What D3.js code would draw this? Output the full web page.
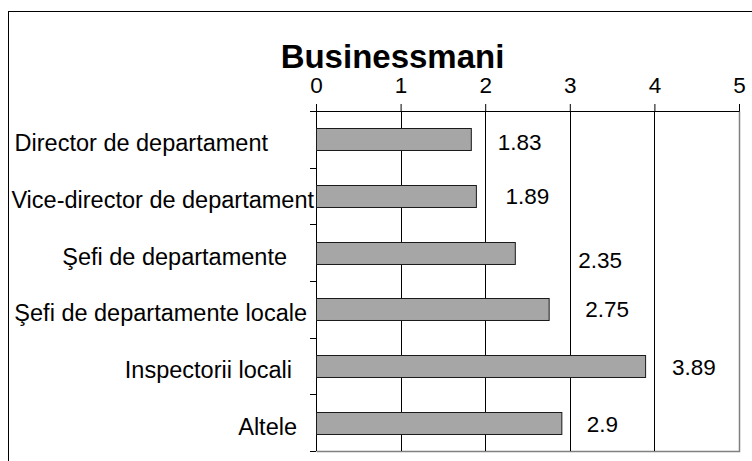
<!DOCTYPE html>
<html>
<head>
<meta charset="utf-8">
<script src="https://cdn.jsdelivr.net/npm/d3@7"></script>
<style>
  body { margin: 0; background: #fff; }
  text { font-family: "Liberation Sans", Arial, sans-serif; fill: #000; }
</style>
</head>
<body>
<script>
var categories = ["Director de departament", "Vice-director de departament", "Şefi de departamente",
                  "Şefi de departamente locale", "Inspectorii locali", "Altele"];
var values = [1.83, 1.89, 2.35, 2.75, 3.89, 2.9];
var ticks = [0, 1, 2, 3, 4, 5];
var title = "Businessmani";

// hand placed labels in the original, small nudges in px
var catGap = [48, 2, 29, 9, 24, 19];
var valDx = [0, 2.5, 36.5, 9.5, 0, -1.5];
var valDy = [3, 0, 7.5, 0, 1, 1];

var width = 752, height = 461;
// plot area (note: "top" is taken by window.top)
var pLeft = 316, pRight = 739, pTop = 111, pBottom = 451;

var svg = d3.select("body")
    .append("svg")
    .attr("width", width)
    .attr("height", height);

// chart border
svg.append("rect")
    .attr("x", 8.5)
    .attr("y", 11.5)
    .attr("width", 770)
    .attr("height", 480)
    .attr("fill", "none")
    .attr("stroke", "#000");

svg.append("text")
    .attr("x", 392.5)
    .attr("y", 68)
    .attr("text-anchor", "middle")
    .attr("font-size", 33)
    .attr("font-weight", "bold")
    .text(title);

var x = d3.scaleLinear()
    .domain([0, 5])
    .range([pLeft, pRight]);

var y = d3.scaleBand()
    .domain(categories)
    .range([pTop, pBottom])
    .paddingInner(0.612)
    .paddingOuter(0.306);

// plot area border (grey right / bottom)
svg.append("path")
    .attr("d", "M" + (pRight + 0.5) + "," + (pTop + 0.5) + "V" + (pBottom + 0.5) + "H" + (pLeft + 0.5))
    .attr("fill", "none")
    .attr("stroke", "#808080")
    .attr("stroke-width", 1.5);

// gridlines
svg.selectAll(".grid")
    .data(ticks.filter(function(d) { return d > 0 && d < 5; }))
    .enter()
    .append("line")
    .attr("x1", function(d) { return Math.round(x(d)) + 0.5; })
    .attr("x2", function(d) { return Math.round(x(d)) + 0.5; })
    .attr("y1", pTop)
    .attr("y2", pBottom)
    .attr("stroke", "#000");

// top axis
var xAxis = svg.append("g")
    .attr("transform", "translate(0," + pTop + ")")
    .call(d3.axisTop(x).tickValues(ticks).tickSize(7).tickPadding(11).tickFormat(d3.format("d")));
xAxis.select(".domain").attr("stroke", "#000");
xAxis.selectAll(".tick line").attr("stroke", "#000");
xAxis.selectAll("text")
    .attr("font-size", 22.5)
    .attr("font-family", null);

// left axis, ticks between categories
var edges = d3.range(categories.length + 1).map(function(i) {
    return pTop + i * (pBottom - pTop) / categories.length;
});
svg.append("line")
    .attr("x1", pLeft + 0.5).attr("x2", pLeft + 0.5)
    .attr("y1", pTop - 7).attr("y2", pBottom)
    .attr("stroke", "#000");
svg.selectAll(".ytick")
    .data(edges)
    .enter()
    .append("line")
    .attr("x1", pLeft - 6)
    .attr("x2", pLeft)
    .attr("y1", function(d) { return Math.round(d) + 0.5; })
    .attr("y2", function(d) { return Math.round(d) + 0.5; })
    .attr("stroke", "#000");

// bars
svg.selectAll(".bar")
    .data(values)
    .enter()
    .append("rect")
    .attr("x", x(0) + 0.5)
    .attr("y", function(d, i) { return Math.round(y(categories[i])) + 0.5; })
    .attr("width", function(d) { return x(d) - x(0); })
    .attr("height", y.bandwidth())
    .attr("fill", "#a6a6a6")
    .attr("stroke", "#1a1a1a");

// category labels
svg.selectAll(".cat")
    .data(categories)
    .enter()
    .append("text")
    .attr("x", function(d, i) { return pLeft - catGap[i]; })
    .attr("y", function(d) { return y(d) + y.bandwidth() / 2 + 12; })
    .attr("text-anchor", "end")
    .attr("font-size", 23.5)
    .text(function(d) { return d; });

// value labels
svg.selectAll(".val")
    .data(values)
    .enter()
    .append("text")
    .attr("x", function(d, i) { return x(d) + 27 + valDx[i]; })
    .attr("y", function(d, i) { return y(categories[i]) + y.bandwidth() / 2 + 8 + valDy[i]; })
    .attr("font-size", 22.5)
    .text(function(d) { return d; });
</script>
</body>
</html>
